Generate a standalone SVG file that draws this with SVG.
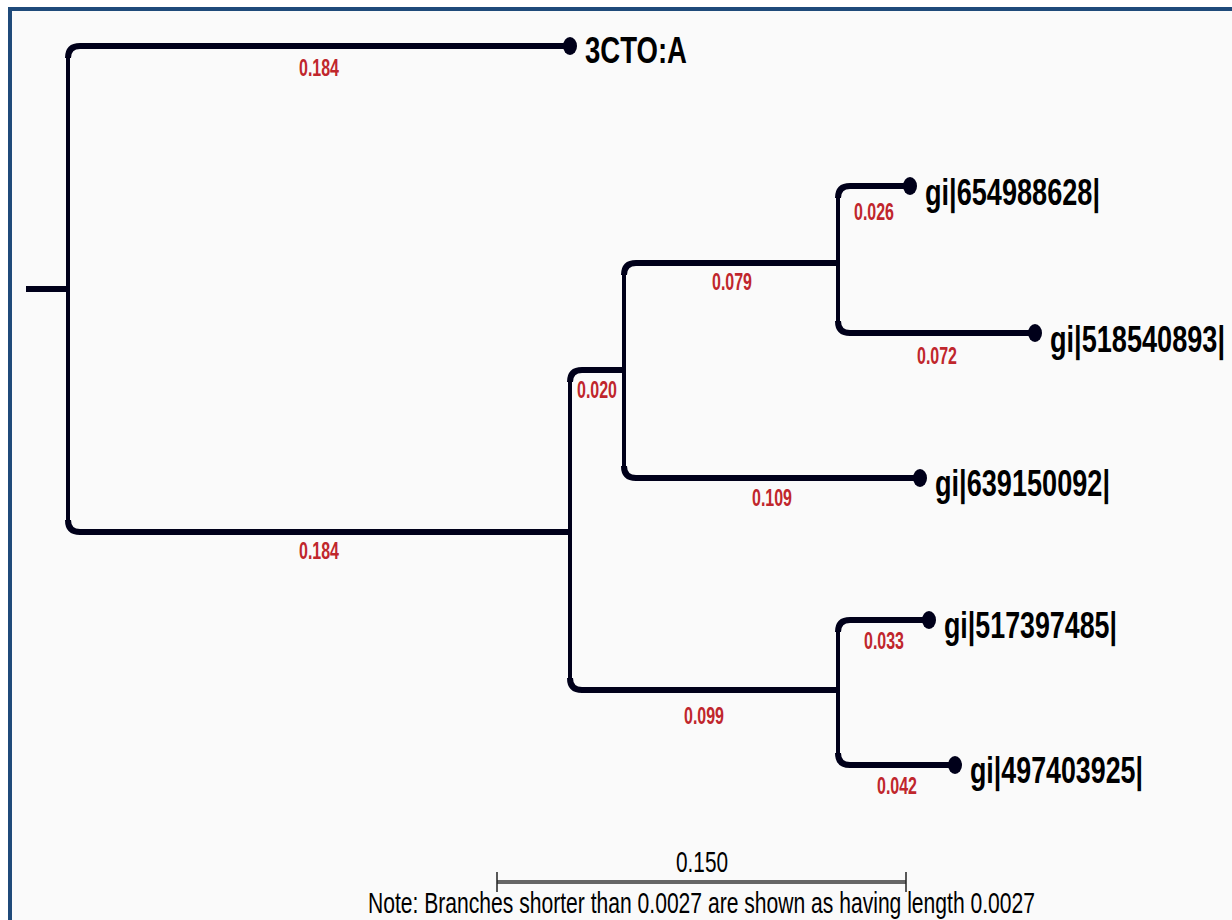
<svg xmlns="http://www.w3.org/2000/svg" width="1232" height="920" viewBox="0 0 1232 920">
<style>
.br{fill:none;stroke:#00001a;stroke-width:6;stroke-linecap:butt}
.vt{fill:none;stroke:#00001a;stroke-width:4}
.dot{fill:#00001a}
.lf{font-family:"Liberation Sans",Arial,sans-serif;font-weight:bold;font-size:37px;fill:#000}
.bl{font-family:"Liberation Sans",Arial,sans-serif;font-weight:bold;font-size:24px;fill:#c0262c;text-anchor:middle}
.sc{font-family:"Liberation Sans",Arial,sans-serif;font-size:30px;fill:#000}
</style>
<rect x="0" y="0" width="1232" height="920" fill="#ffffff"/>
<rect x="10" y="9" width="1240" height="940" fill="#fafafa" stroke="#1f4a7a" stroke-width="4"/>
<g id="connectors">
<line class="br" x1="26" y1="289" x2="68" y2="289"/>
<line class="vt" x1="68" y1="56" x2="68" y2="522"/>
<path class="br" d="M68,58 Q68,46 80,46 L570,46"/>
<path class="br" d="M68,520 Q68,532 80,532 L570,532"/>
<line class="vt" x1="570" y1="380" x2="570" y2="680"/>
<path class="br" d="M570,382 Q570,370 582,370 L624,370"/>
<path class="br" d="M570,678 Q570,690 582,690 L838,690"/>
<line class="vt" x1="624" y1="273" x2="624" y2="468"/>
<path class="br" d="M624,275 Q624,263 636,263 L838,263"/>
<path class="br" d="M624,466 Q624,478 636,478 L920,478"/>
<line class="vt" x1="838" y1="196" x2="838" y2="323"/>
<path class="br" d="M838,198 Q838,186 850,186 L910,186"/>
<path class="br" d="M838,321 Q838,333 850,333 L1035,333"/>
<line class="vt" x1="838" y1="630" x2="838" y2="755"/>
<path class="br" d="M838,632 Q838,620 850,620 L929,620"/>
<path class="br" d="M838,753 Q838,765 850,765 L955,765"/>
</g>
<g id="branch-labels">
<text class="bl" x="319" y="76" textLength="40" lengthAdjust="spacingAndGlyphs">0.184</text>
<text class="bl" x="319" y="559" textLength="40" lengthAdjust="spacingAndGlyphs">0.184</text>
<text class="bl" x="597" y="398" textLength="40" lengthAdjust="spacingAndGlyphs">0.020</text>
<text class="bl" x="732" y="290" textLength="40" lengthAdjust="spacingAndGlyphs">0.079</text>
<text class="bl" x="874" y="220" textLength="40" lengthAdjust="spacingAndGlyphs">0.026</text>
<text class="bl" x="937" y="364" textLength="40" lengthAdjust="spacingAndGlyphs">0.072</text>
<text class="bl" x="772" y="506" textLength="40" lengthAdjust="spacingAndGlyphs">0.109</text>
<text class="bl" x="884" y="649" textLength="40" lengthAdjust="spacingAndGlyphs">0.033</text>
<text class="bl" x="704" y="724" textLength="40" lengthAdjust="spacingAndGlyphs">0.099</text>
<text class="bl" x="897" y="794" textLength="40" lengthAdjust="spacingAndGlyphs">0.042</text>
</g>
<g id="leaf-3CTO-A">
<ellipse class="dot" cx="570" cy="46" rx="7" ry="9"/>
<text class="lf" x="585" y="63" textLength="102" lengthAdjust="spacingAndGlyphs">3CTO:A</text>
</g>
<g id="leaf-654988628">
<ellipse class="dot" cx="910" cy="186" rx="7" ry="9"/>
<text class="lf" x="925" y="205" textLength="175" lengthAdjust="spacingAndGlyphs">gi|654988628|</text>
</g>
<g id="leaf-518540893">
<ellipse class="dot" cx="1035" cy="333" rx="7" ry="9"/>
<text class="lf" x="1050" y="352" textLength="175" lengthAdjust="spacingAndGlyphs">gi|518540893|</text>
</g>
<g id="leaf-639150092">
<ellipse class="dot" cx="920" cy="478" rx="7" ry="9"/>
<text class="lf" x="935" y="496" textLength="175" lengthAdjust="spacingAndGlyphs">gi|639150092|</text>
</g>
<g id="leaf-517397485">
<ellipse class="dot" cx="929" cy="620" rx="7" ry="9"/>
<text class="lf" x="944" y="638" textLength="173" lengthAdjust="spacingAndGlyphs">gi|517397485|</text>
</g>
<g id="leaf-497403925">
<ellipse class="dot" cx="955" cy="765" rx="7" ry="9"/>
<text class="lf" x="970" y="783" textLength="173" lengthAdjust="spacingAndGlyphs">gi|497403925|</text>
</g>
<g id="scale">
<line x1="497" y1="882" x2="906" y2="882" stroke="#666" stroke-width="4"/>
<line x1="497" y1="872" x2="497" y2="892" stroke="#222" stroke-width="1.5"/>
<line x1="906" y1="872" x2="906" y2="892" stroke="#222" stroke-width="1.5"/>
<text class="sc" x="676" y="872" textLength="52" lengthAdjust="spacingAndGlyphs">0.150</text>
<text class="sc" x="368" y="913" textLength="667" lengthAdjust="spacingAndGlyphs">Note: Branches shorter than 0.0027 are shown as having length 0.0027</text>
</g>
</svg>
